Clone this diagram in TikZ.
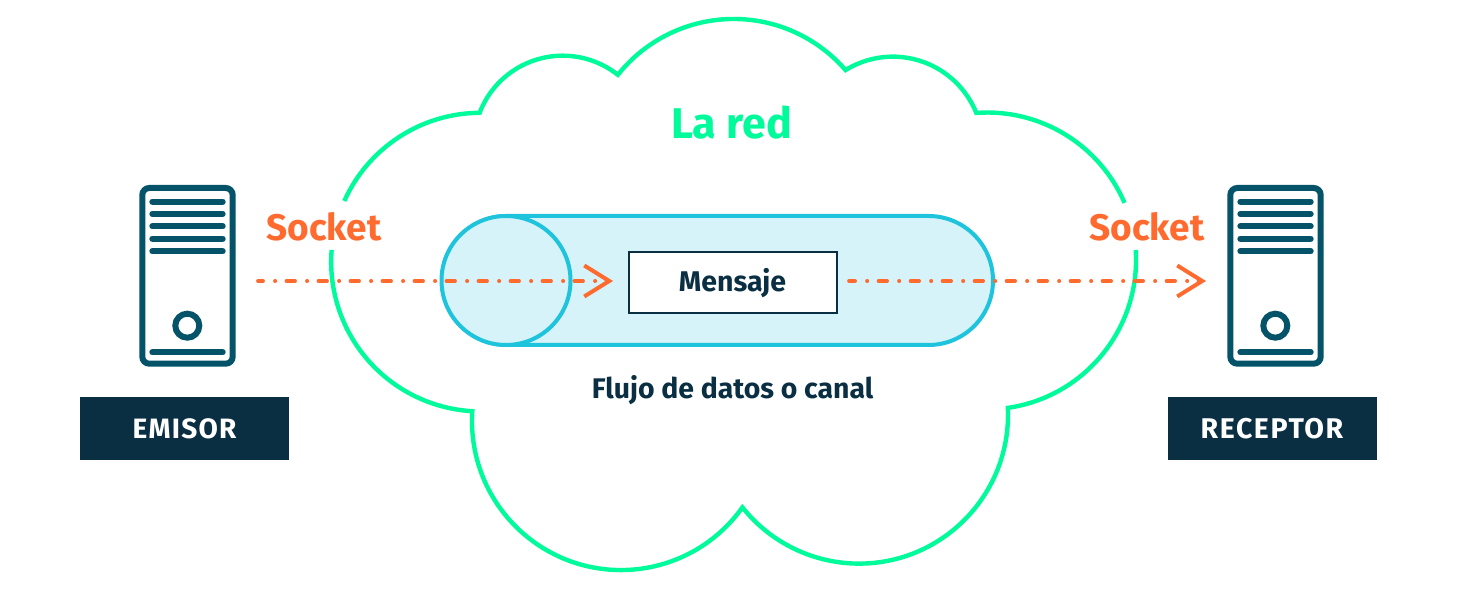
\documentclass[tikz,border=0pt]{standalone}
\usepackage{fontspec}
\setmainfont{Fira Sans}
\usetikzlibrary{arrows.meta}
\definecolor{netgreen}{HTML}{00FB9B}
\definecolor{sockorange}{HTML}{FF6A2F}
\definecolor{navy}{HTML}{0A2F43}
\definecolor{teal}{HTML}{045369}
\definecolor{tubeedge}{HTML}{1EC3DC}
\definecolor{tubefill}{HTML}{D5F3F8}
\tikzset{
  cloudline/.style={draw=netgreen,line width=4.4pt,miter limit=10},
  tubeshape/.style={draw=tubeedge,fill=tubefill,line width=4pt},
  flow/.style={draw=sockorange,line width=3.8pt,line cap=round,
    -{Straight Barb[length=25pt,width=31pt,line width=4pt,sep=0pt]}},
  lab/.style={inner sep=0pt,anchor=base,font=\bfseries},
  tag/.style={fill=navy,text=white,minimum width=209pt,minimum height=62.4pt,inner sep=0pt},
  server/.pic={
    \draw[teal,line width=6pt,rounded corners=7pt] (142.3,229.3) rectangle (232.7,405);
    \foreach \yy in {391.3,379,366.7,354.3,341.7,240.7}
      \draw[teal,line width=6pt,line cap=round] (152.3,\yy) -- (222.7,\yy);
    \draw[teal,line width=6pt] (187.3,267.3) circle[radius=12pt];
  }
}
\begin{document}
\begin{tikzpicture}[x=1pt,y=1pt]
\useasboundingbox (0,0) rectangle (1458,593);
% cloud
\draw[cloudline] (344.3,392)
  arc[start angle=155.8,end angle=90.4,radius=149.5pt]
  arc[start angle=159,end angle=51.7,radius=89pt]
  arc[start angle=141.5,end angle=40.9,radius=148pt]
  arc[start angle=121.7,end angle=22,radius=90pt]
  arc[start angle=94.2,end angle=23.3,radius=149.5pt];
\draw[cloudline] (1135.7,343)
  arc[start angle=3.8,end angle=-81.8,radius=149.5pt]
  arc[start angle=2.6,end angle=-141.5,radius=149pt]
  arc[start angle=-35.4,end angle=-183.8,radius=149pt]
  arc[start angle=-93.2,end angle=-184.6,radius=149.5pt];
% tube
\draw[tubeshape,rounded corners=64.5pt] (442,248) rectangle (993,377);
\draw[tubeshape] (506,312.5) circle[radius=64.5pt];
% servers
\pic at (0,0) {server};
\pic at (1088,0) {server};
% tags
\node[tag] (emisor) at (184.7,164.5) {};
\node[tag] (receptor) at (1272.5,164.5) {};
\node[lab,text=white,font=\bfseries\fontsize{28}{28}\selectfont\addfontfeatures{LetterSpace=4.5}] (emisorT) at (184.5,154.3) {EMISOR};
\node[lab,text=white,font=\bfseries\fontsize{28.5}{28.5}\selectfont\addfontfeatures{LetterSpace=5.5}] (receptorT) at (1272,154.3) {RECEPTOR};
% message
\node[draw=navy,line width=2pt,fill=white,minimum width=207.5pt,minimum height=61.5pt,inner sep=0pt] (msg) at (732.8,310.5) {};
\node[lab,text=navy,font=\bfseries\fontsize{28.5}{28.5}\selectfont] (msgT) at (732.5,301.3) {Mensaje};
% labels
\node[lab,text=sockorange,font=\bfseries\fontsize{37}{37}\selectfont] (sockL) at (324,352.5) {Socket};
\node[lab,text=sockorange,font=\bfseries\fontsize{37}{37}\selectfont] (sockR) at (1147,352.5) {Socket};
\node[lab,text=netgreen,font=\bfseries\fontsize{43}{43}\selectfont] (lared) at (731.5,454) {La red};
\node[lab,text=navy,font=\bfseries\fontsize{28.4}{28.4}\selectfont] (flujo) at (732.5,194.5) {Flujo de datos o canal};
% flows
\coordinate (srcL) at (258,312);
\coordinate (dstR) at (1206,312);
\draw[flow,dash pattern=on 8.5pt off 12pt on 0.2pt off 11.3pt,dash phase=3.5pt,shorten >=15pt] (srcL) -- (msg.west |- srcL);
\draw[flow,dash pattern=on 8.5pt off 12pt on 0.2pt off 11.3pt,dash phase=2.5pt,shorten <=11.5pt] (msg.east |- dstR) -- (dstR);
\end{tikzpicture}
\end{document}
